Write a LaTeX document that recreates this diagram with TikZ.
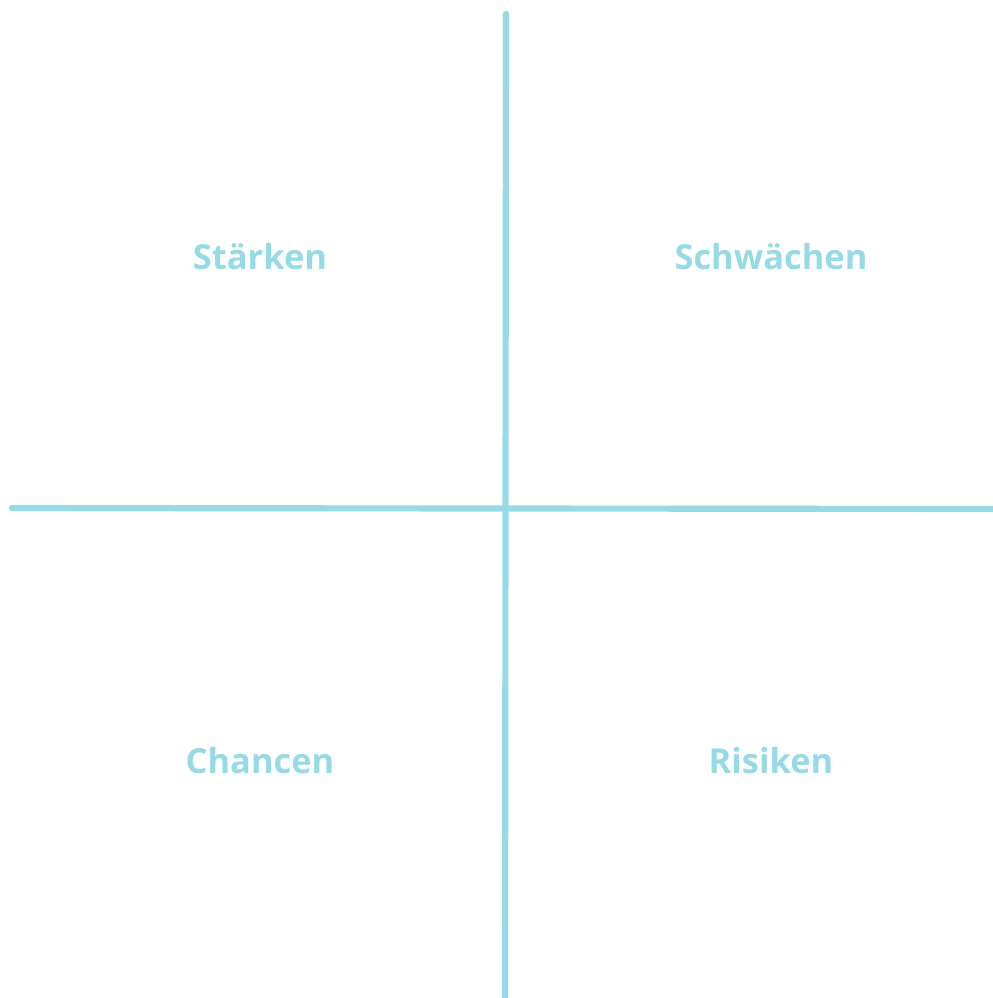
\documentclass[tikz,border=0pt]{standalone}
\usepackage{fontspec}
\setmainfont{Open Sans}
\usepackage{xcolor}
\definecolor{swotcyan}{RGB}{150,218,230}
\usetikzlibrary{positioning, calc}

\begin{document}
\begin{tikzpicture}[every node/.style={font=\fontsize{9.8}{12}\selectfont\bfseries}, quad/.style={text=swotcyan, inner sep=0pt}, axis/.style={draw=swotcyan, line width=1.75pt, line cap=round}]
  \useasboundingbox (0, 0) rectangle (9.92, -9.98);
  \coordinate (top) at (5.06, -0.14);
  \coordinate (bottom) at (5.05, -10.05);
  \coordinate (left) at (0.12, -5.08);
  \coordinate (right) at (10.05, -5.09);
  \draw[axis] (top) -- (bottom);
  \draw[axis] (left) -- (right);
  \node[quad] (s) at (2.60, -2.57) {Stärken};
  \node[quad] (w) at (7.71, -2.57) {Schwächen};
  \node[quad] (o) at (2.60, -7.61) {Chancen};
  \node[quad] (t) at (7.71, -7.61) {Risiken};
\end{tikzpicture}
\end{document}
